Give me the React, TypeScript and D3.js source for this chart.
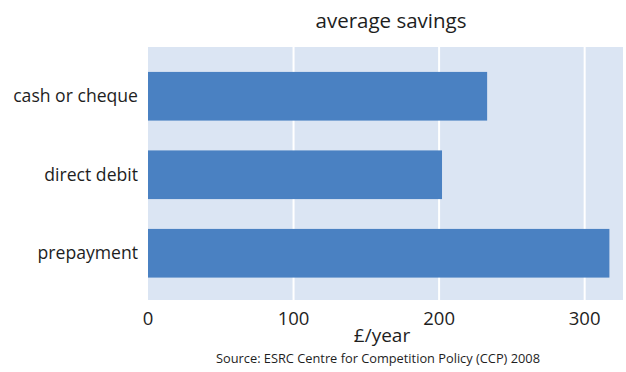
import React from "react";
import * as d3 from "d3";

const categories = ["cash or cheque", "direct debit", "prepayment"];
const values = [233, 202, 317];
const xTicks = [0, 100, 200, 300];
const title = "average savings";
const xLabel = "£/year";
const source = "Source: ESRC Centre for Competition Policy (CCP) 2008";

const W = 626;
const H = 372;
const plot = { left: 148, right: 623, top: 47, bottom: 300 };
const FONT = "'Open Sans', 'Noto Sans', sans-serif";

export default function App() {
  const x = d3.scaleLinear().domain([0, 326]).range([plot.left, plot.right - 0.5]);
  const y = d3
    .scaleBand<string>()
    .domain(categories)
    .range([57, 292.5])
    .paddingInner(0.38)
    .paddingOuter(0.19);

  return (
    <svg
      width={W}
      height={H}
      style={{ position: "absolute", left: 0, top: 0, background: "#fff" }}
      fontFamily={FONT}
    >
      <rect
        x={plot.left}
        y={plot.top}
        width={plot.right - plot.left}
        height={plot.bottom - plot.top}
        fill="#dbe5f3"
      />
      {xTicks.slice(1).map((t) => (
        <line
          key={t}
          x1={x(t)}
          x2={x(t)}
          y1={plot.top}
          y2={plot.bottom}
          stroke="#fff"
          strokeWidth={2}
        />
      ))}
      {categories.map((c, i) => (
        <rect
          key={c}
          x={x(0)}
          y={y(c)}
          width={x(values[i]) - x(0)}
          height={y.bandwidth()}
          fill="#4a81c2"
        />
      ))}
      {categories.map((c) => (
        <text
          key={c}
          x={138}
          y={(y(c) as number) + y.bandwidth() / 2}
          dy="0.35em"
          textAnchor="end"
          fontSize={17.6}
          fill="#1e1e1e"
        >
          {c}
        </text>
      ))}
      {xTicks.map((t) => (
        <text key={t} x={x(t)} y={325} textAnchor="middle" fontSize={18.5} fill="#1e1e1e">
          {t}
        </text>
      ))}
      <text x={382} y={342} textAnchor="middle" fontSize={19} fill="#1e1e1e">
        {xLabel}
      </text>
      <text x={391} y={28} textAnchor="middle" fontSize={20.5} fill="#1e1e1e">
        {title}
      </text>
      <text x={378} y={363} textAnchor="middle" fontSize={12.8} fill="#1e1e1e">
        {source}
      </text>
    </svg>
  );
}
